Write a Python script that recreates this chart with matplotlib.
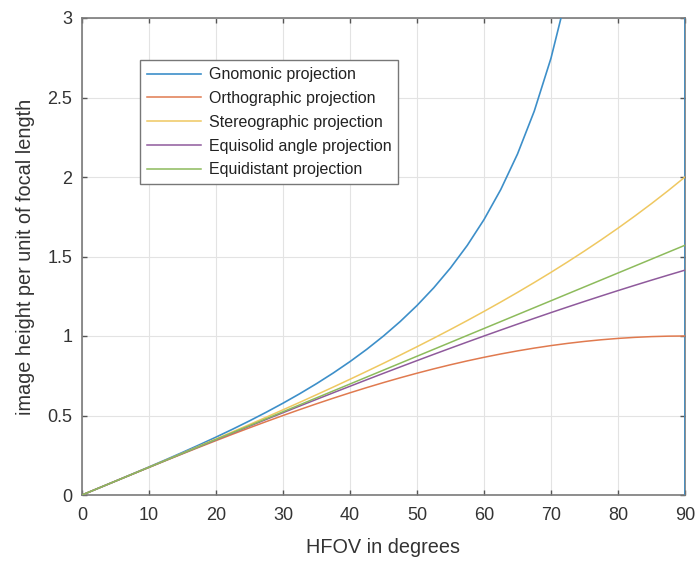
import matplotlib
matplotlib.use('Agg')
import matplotlib.pyplot as plt

# HFOV in degrees (sampled every 2.5 degrees)
hfov = [0, 2.5, 5, 7.5, 10, 12.5, 15, 17.5, 20, 22.5, 25, 27.5, 30, 32.5, 35, 37.5,
        40, 42.5, 45, 47.5, 50, 52.5, 55, 57.5, 60, 62.5, 65, 67.5, 70, 72.5, 75,
        77.5, 80, 82.5, 85, 87.5, 90]

gnomonic = [0, 0.0437, 0.0875, 0.1317, 0.1763, 0.2217, 0.2679, 0.3153, 0.3640, 0.4142,
            0.4663, 0.5206, 0.5774, 0.6371, 0.7002, 0.7673, 0.8391, 0.9163, 1.0, 1.0913,
            1.1918, 1.3032, 1.4281, 1.5697, 1.7321, 1.9210, 2.1445, 2.4142, 2.7475, 3.1716,
            3.7321, 4.5107, 5.6713, 7.5958, 11.430, 22.904, 100.0]
# the blue curve also drops down along the right edge at 90 degrees
gnomonic_x = hfov + [90]
gnomonic_y = gnomonic + [0]

orthographic = [0, 0.0436, 0.0872, 0.1305, 0.1736, 0.2164, 0.2588, 0.3007, 0.3420, 0.3827,
                0.4226, 0.4617, 0.5, 0.5373, 0.5736, 0.6088, 0.6428, 0.6756, 0.7071, 0.7373,
                0.7660, 0.7934, 0.8192, 0.8434, 0.8660, 0.8870, 0.9063, 0.9239, 0.9397, 0.9537,
                0.9659, 0.9763, 0.9848, 0.9914, 0.9962, 0.9990, 1.0]

stereographic = [0, 0.0436, 0.0873, 0.1311, 0.1750, 0.2190, 0.2633, 0.3078, 0.3527, 0.3978,
                 0.4434, 0.4894, 0.5359, 0.5829, 0.6306, 0.6789, 0.7279, 0.7778, 0.8284, 0.8800,
                 0.9326, 0.9863, 1.0411, 1.0972, 1.1547, 1.2136, 1.2741, 1.3364, 1.4004, 1.4665,
                 1.5347, 1.6052, 1.6782, 1.7540, 1.8327, 1.9146, 2.0]

equisolid = [0, 0.0436, 0.0872, 0.1308, 0.1743, 0.2177, 0.2611, 0.3042, 0.3473, 0.3902,
             0.4329, 0.4754, 0.5176, 0.5597, 0.6014, 0.6429, 0.6840, 0.7249, 0.7654, 0.8055,
             0.8452, 0.8846, 0.9235, 0.9620, 1.0, 1.0375, 1.0746, 1.1111, 1.1472, 1.1826,
             1.2175, 1.2518, 1.2856, 1.3187, 1.3512, 1.3830, 1.4142]

equidistant = [0, 0.0436, 0.0873, 0.1309, 0.1745, 0.2182, 0.2618, 0.3054, 0.3491, 0.3927,
               0.4363, 0.4800, 0.5236, 0.5672, 0.6109, 0.6545, 0.6981, 0.7418, 0.7854, 0.8290,
               0.8727, 0.9163, 0.9599, 1.0036, 1.0472, 1.0908, 1.1345, 1.1781, 1.2217, 1.2654,
               1.3090, 1.3526, 1.3963, 1.4399, 1.4835, 1.5272, 1.5708]

labels = ['Gnomonic projection', 'Orthographic projection', 'Stereographic projection',
          'Equisolid angle projection', 'Equidistant projection']
colors = ['#3d8fc9', '#e07a4f', '#efc861', '#8f5a9c', '#8dbb5c']

xticks = [0, 10, 20, 30, 40, 50, 60, 70, 80, 90]
yticks = [0, 0.5, 1, 1.5, 2, 2.5, 3]
ytick_labels = ['0', '0.5', '1', '1.5', '2', '2.5', '3']

plt.rcParams['font.family'] = ['Liberation Sans', 'DejaVu Sans']
txt = '#333333'
edge = '#7a7a7a'

fig = plt.figure(figsize=(6.96, 5.61), dpi=100)
ax = fig.add_axes([82/696, 1 - 495/561, 603/696, 477/561])

ax.plot(gnomonic_x, gnomonic_y, c=colors[0], lw=1.2, label=labels[0], zorder=3)
ax.plot(hfov, orthographic, c=colors[1], lw=1.1, label=labels[1], zorder=3)
ax.plot(hfov, stereographic, c=colors[2], lw=1.1, label=labels[2], zorder=3)
ax.plot(hfov, equisolid, c=colors[3], lw=1.1, label=labels[3], zorder=3)
ax.plot(hfov, equidistant, c=colors[4], lw=1.1, label=labels[4], zorder=3)

ax.set_xlim(0, 90)
ax.set_ylim(0, 3)
ax.set_xticks(xticks)
ax.set_yticks(yticks)
ax.set_yticklabels(ytick_labels)
ax.grid(True, color='#e3e3e3', lw=0.8)
ax.set_axisbelow(True)
for s in ax.spines.values():
    s.set_color(edge)
    s.set_linewidth(1.2)
ax.tick_params(direction='in', length=3.5, width=1.0, color='#555555', top=True, right=True,
               labelsize=13, labelcolor=txt)
ax.tick_params(axis='x', pad=9)
ax.tick_params(axis='y', pad=7)

ax.set_xlabel('HFOV in degrees', fontsize=14.3, color=txt, labelpad=10)
ax.set_ylabel('image height per unit of focal length', fontsize=14.3, color=txt, labelpad=9)

leg = ax.legend(loc='upper left', bbox_to_anchor=(0.096, 0.912), borderaxespad=0,
                fontsize=11.5, handlelength=3.4, handletextpad=0.45, labelspacing=0.55,
                borderpad=0.45, fancybox=False, framealpha=1)
leg.get_frame().set_edgecolor('#777777')
leg.get_frame().set_linewidth(1.0)
leg.set_zorder(5)
for t in leg.get_texts():
    t.set_color('#222222')

fig.savefig('out.png', dpi=100)
